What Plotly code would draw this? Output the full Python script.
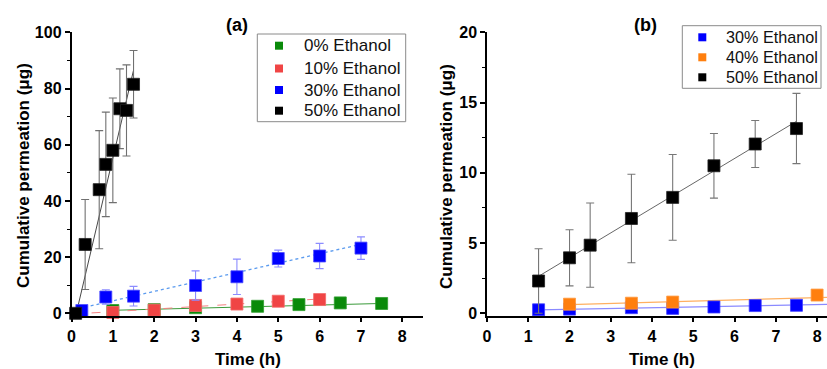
import numpy as np
import plotly.graph_objects as go

# ---------------- Panel (a) data ----------------
a_labels = ["0% Ethanol", "10% Ethanol", "30% Ethanol", "50% Ethanol"]
a_colors = ["#0a8a0a", "#f04545", "#0000ff", "#000000"]

a0_x = [1, 2, 3, 4.5, 5.5, 6.5, 7.5]
a0_y = [1.0, 1.3, 2.0, 2.5, 3.1, 3.7, 3.5]

a10_x = [1, 2, 3, 4, 5, 6]
a10_y = [0.3, 1.1, 2.8, 3.3, 4.3, 4.9]

a30_x = [0.25, 0.83, 1.5, 3, 4, 5, 6, 7]
a30_y = [1.0, 5.8, 6.1, 9.9, 13.0, 19.5, 20.4, 23.2]
a30_err = [0.8, 2.6, 3.5, 5.2, 6.3, 3.0, 4.5, 4.0]

a50_x = [0.1, 0.33, 0.67, 0.83, 1.0, 1.17, 1.33, 1.5]
a50_y = [0.0, 24.5, 44.0, 53.0, 58.0, 72.8, 72.2, 81.5]
a50_err = [0.0, 16.0, 21.0, 18.6, 18.6, 14.2, 16.2, 12.0]

# linear fits: slope, intercept, x-start, x-end
a_fit_slope = [0.374, 0.9, 3.35, 62.5]
a_fit_icpt = [0.7, -0.3, 1.1, -7.25]
a_fit_x0 = [1.0, 0.05, 0.18, 0.1]
a_fit_x1 = [7.5, 6.0, 7.0, 1.5]

# ---------------- Panel (b) data ----------------
b_labels = ["30% Ethanol", "40% Ethanol", "50% Ethanol"]
b_colors = ["#0000ff", "#ff7f0e", "#000000"]

b30_x = [1.25, 2, 3.5, 4.5, 5.5, 6.5, 7.5]
b30_y = [0.25, 0.3, 0.4, 0.35, 0.45, 0.55, 0.57]

b40_x = [2, 3.5, 4.5, 8]
b40_y = [0.65, 0.72, 0.8, 1.3]

b50_x = [1.25, 2, 2.5, 3.5, 4.5, 5.5, 6.5, 7.5]
b50_y = [2.3, 3.95, 4.85, 6.75, 8.25, 10.5, 12.05, 13.15]
b50_err = [2.3, 2.0, 3.0, 3.15, 3.05, 2.3, 1.67, 2.5]

b_fit_slope = [0.055, 0.083, 1.765]
b_fit_icpt = [0.18, 0.45, 0.43]
b_fit_x0 = [1.25, 2.0, 1.25]
b_fit_x1 = [8.6, 8.6, 7.5]

FONT = "Arial, 'Liberation Sans', sans-serif"
W, H = 827, 369


def px_x(p):
    return p / W


def px_y(p):
    return 1 - p / H


fig = go.Figure()


def fit_line(slope, icpt, x0, x1, color, dash, width, xa, ya):
    xs = np.array([x0, x1])
    ys = slope * xs + icpt
    fig.add_trace(go.Scatter(x=xs, y=ys, mode="lines", xaxis=xa, yaxis=ya,
                             line=dict(color=color, width=width, dash=dash),
                             showlegend=False, hoverinfo="skip"))


def points(x, y, name, color, border, xa, ya, err=None, errcolor=None):
    kw = {}
    if err is not None:
        kw["error_y"] = dict(type="data", array=err, visible=True,
                             color=errcolor, thickness=1.1, width=4)
    fig.add_trace(go.Scatter(x=x, y=y, mode="markers", xaxis=xa, yaxis=ya, name=name,
                             marker=dict(symbol="square", size=12, color=color,
                                         line=dict(color=border, width=0.8)),
                             showlegend=False, cliponaxis=False, **kw))


# ---- panel (a) ----
fit_line(a_fit_slope[0], a_fit_icpt[0], a_fit_x0[0], a_fit_x1[0], "#3a9a3a", "solid", 1, "x", "y")
fit_line(a_fit_slope[1], a_fit_icpt[1], a_fit_x0[1], a_fit_x1[1], "#f58080", "dash", 1, "x", "y")
fit_line(a_fit_slope[2], a_fit_icpt[2], a_fit_x0[2], a_fit_x1[2], "#5b9bef", "dot", 1.3, "x", "y")
fit_line(a_fit_slope[3], a_fit_icpt[3], a_fit_x0[3], a_fit_x1[3], "#333333", "solid", 0.9, "x", "y")

points(a0_x, a0_y, a_labels[0], a_colors[0], "#2e9e2e", "x", "y")
points(a10_x, a10_y, a_labels[1], a_colors[1], "#f46a6a", "x", "y")
points(a30_x, a30_y, a_labels[2], a_colors[2], "#4d4dff", "x", "y", a30_err, "#8c8cff")
points(a50_x, a50_y, a_labels[3], a_colors[3], "#222222", "x", "y", a50_err, "#707070")

# ---- panel (b) ----
fit_line(b_fit_slope[0], b_fit_icpt[0], b_fit_x0[0], b_fit_x1[0], "#8a8aff", "solid", 1.2, "x2", "y2")
fit_line(b_fit_slope[1], b_fit_icpt[1], b_fit_x0[1], b_fit_x1[1], "#ffb060", "solid", 1.2, "x2", "y2")
fit_line(b_fit_slope[2], b_fit_icpt[2], b_fit_x0[2], b_fit_x1[2], "#555555", "solid", 0.9, "x2", "y2")

points(b30_x, b30_y, b_labels[0], b_colors[0], "#3d3dff", "x2", "y2")
points(b40_x, b40_y, b_labels[1], b_colors[1], "#ff9a40", "x2", "y2")
points(b50_x, b50_y, b_labels[2], b_colors[2], "#222222", "x2", "y2", b50_err, "#777777")

y_top, y_bot = px_y(32.3), px_y(315.7)

axis_common = dict(showline=True, linecolor="black", linewidth=1.5,
                   ticks="outside", ticklen=5, tickwidth=1.5, tickcolor="black",
                   showgrid=False, zeroline=False,
                   tickfont=dict(family=FONT, size=16, color="black", weight="bold"))

fig.update_layout(
    width=W, height=H,
    margin=dict(l=0, r=0, t=0, b=0, autoexpand=False),
    paper_bgcolor="white", plot_bgcolor="white",
    showlegend=False,
    xaxis=dict(domain=[px_x(71.5), px_x(423)], range=[0, 8.5], dtick=1,
               anchor="y", **axis_common),
    yaxis=dict(domain=[y_bot, y_top], range=[-0.85, 100], dtick=20,
               minor=dict(dtick=10, ticks="outside", ticklen=3, tickwidth=1.2, tickcolor="black"),
               anchor="x", **axis_common),
    xaxis2=dict(domain=[px_x(487), 1.0], range=[0, 8.24], dtick=1,
                anchor="y2", **axis_common),
    yaxis2=dict(domain=[y_bot, y_top], range=[-0.17, 20], dtick=5,
                minor=dict(dtick=2.5, ticks="outside", ticklen=3, tickwidth=1.2, tickcolor="black"),
                anchor="x2", **axis_common),
)


# ---- legends (drawn as boxed keys) ----
def draw_legend(labels, colors, box, mx, tx, rows, fsize):
    x0, y0, x1, y1 = box
    fig.add_shape(type="rect", xref="paper", yref="paper",
                  x0=px_x(x0), x1=px_x(x1), y0=px_y(y1), y1=px_y(y0),
                  line=dict(color="#8a8a8a", width=1), fillcolor="white", layer="above")
    for lab, col, ry in zip(labels, colors, rows):
        fig.add_shape(type="rect", xref="paper", yref="paper",
                      x0=px_x(mx - 4), x1=px_x(mx + 4), y0=px_y(ry + 4), y1=px_y(ry - 4),
                      line=dict(width=0), fillcolor=col, layer="above")
        fig.add_annotation(xref="paper", yref="paper", showarrow=False,
                           x=px_x(tx), y=px_y(ry), xanchor="left", yanchor="middle",
                           text=lab, borderpad=0,
                           font=dict(family=FONT, size=fsize, color="#111111"))


draw_legend(a_labels, a_colors, (257.3, 34, 405.7, 121.7), 279, 303, [45.7, 68.5, 90, 110.7], 17)
draw_legend(b_labels, b_colors, (682.3, 25.7, 821, 88.3), 702.3, 725, [37.3, 57.3, 77.3], 16.2)

title_font = dict(family=FONT, size=17, color="black", weight="bold")
ann = [
    dict(text="(a)", x=px_x(237), y=px_y(25), font_size=18),
    dict(text="(b)", x=px_x(645), y=px_y(25), font_size=18),
    dict(text="Time (h)", x=px_x(248), y=px_y(359.5)),
    dict(text="Time (h)", x=px_x(662), y=px_y(359.5)),
    dict(text="Cumulative permeation (μg)", x=px_x(24), y=px_y(176), textangle=-90),
    dict(text="Cumulative permeation (μg)", x=px_x(447), y=px_y(176), textangle=-90),
]
for a in ann:
    fs = a.pop("font_size", 17)
    fig.add_annotation(xref="paper", yref="paper", showarrow=False,
                       xanchor="center", yanchor="middle",
                       font=dict(title_font, size=fs), **a)

fig.write_html("out.html",
               config={"displayModeBar": False},
               post_script="document.body.style.margin='0px';"
                           "document.body.style.overflow='hidden';")
